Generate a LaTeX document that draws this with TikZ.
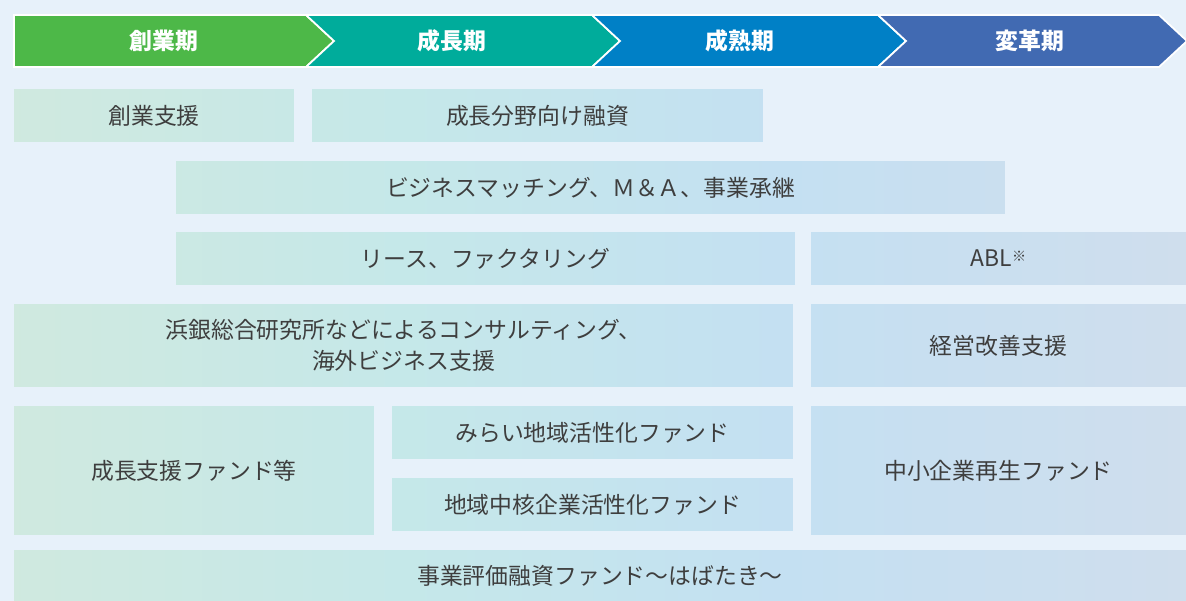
\documentclass[tikz,border=0pt]{standalone}
\usepackage{fontspec}
\setmainfont{Noto Sans CJK JP}
\usetikzlibrary{backgrounds}
\definecolor{HBGreen}{RGB}{77,184,72}
\definecolor{HBTeal}{RGB}{0,172,155}
\definecolor{HBBlue}{RGB}{0,128,198}
\definecolor{HBIndigo}{RGB}{65,106,178}
\definecolor{HBBack}{RGB}{231,241,250}
\definecolor{HBText}{RGB}{62,62,62}
\definecolor{CardA}{RGB}{208,233,223}
\definecolor{CardB}{RGB}{197,232,233}
\definecolor{CardC}{RGB}{196,224,242}
\definecolor{CardD}{RGB}{207,222,237}
\pgfdeclarehorizontalshading{cardshade}{100bp}{color(0bp)=(CardA); color(25bp)=(CardA); color(42bp)=(CardB); color(58bp)=(CardC); color(75bp)=(CardD); color(100bp)=(CardD)}
\tikzset{
  phase/.style={draw=white, line width=1pt},
  phaselabel/.style={text=white, font=\fontsize{13}{16}\selectfont\bfseries},
  card/.style={inner sep=0pt, outer sep=0pt, align=center, text=HBText, font=\fontsize{13}{17.4}\selectfont, minimum height=1.06cm},
  tallcard/.style={card, minimum height=1.66cm},
  bigcard/.style={card, minimum height=2.58cm}
}
\begin{document}
\begin{tikzpicture}[x=0.02cm, y=-0.02cm]
\useasboundingbox (0,0) rectangle (1186,601);
% phases
\fill[HBGreen, phase] (14,15) -- (306,15) -- (334,41) -- (306,67) -- (14,67) -- cycle;
\fill[HBTeal, phase] (306,15) -- (592,15) -- (620,41) -- (592,67) -- (306,67) -- (334,41) -- cycle;
\fill[HBBlue, phase] (592,15) -- (878,15) -- (906,41) -- (878,67) -- (592,67) -- (620,41) -- cycle;
\fill[HBIndigo, phase] (878,15) -- (1159,15) -- (1187,41) -- (1159,67) -- (878,67) -- (906,41) -- cycle;
\node[phaselabel] (p1) at (164,41) {創業期};
\node[phaselabel] (p2) at (452,41) {成長期};
\node[phaselabel] (p3) at (740,41) {成熟期};
\node[phaselabel] (p4) at (1030,41) {変革期};
% support menu
\node[card, minimum width=5.6cm] (sogyo) at (154,115.5) {創業支援};
\node[card, minimum width=9.02cm] (bunya) at (537.5,115.5) {成長分野向け融資};
\node[card, minimum width=16.58cm] (match) at (590.5,187.5) {ビジネスマッチング、Ｍ＆Ａ、事業承継};
\node[card, minimum width=12.38cm] (lease) at (485.5,258.5) {リース、ファクタリング};
\node[card, minimum width=7.5cm] (abl) at (998.5,258.5) {ABL\raisebox{0.45ex}{\fontsize{8}{8}\selectfont ※}};
\node[tallcard, minimum width=15.58cm] (consult) at (403.5,345.5) {浜銀総合研究所などによるコンサルティング、\\海外ビジネス支援};
\node[tallcard, minimum width=7.5cm] (kaizen) at (998.5,345.5) {経営改善支援};
\node[bigcard, minimum width=7.2cm] (fund) at (194,470.5) {成長支援ファンド等};
\node[card, minimum width=8.02cm] (mirai) at (592.5,432.5) {みらい地域活性化ファンド};
\node[card, minimum width=8.02cm] (chukaku) at (592.5,504.5) {地域中核企業活性化ファンド};
\node[bigcard, minimum width=7.5cm] (saisei) at (998.5,470.5) {中小企業再生ファンド};
\node[card, minimum width=23.44cm, minimum height=1.02cm] (habataki) at (600,575.5) {事業評価融資ファンド〜はばたき〜};
\begin{scope}[on background layer]
\fill[HBBack] (0,0) rectangle (1186,601);
\begin{scope}
\clip (sogyo.south west) rectangle (sogyo.north east)
      (bunya.south west) rectangle (bunya.north east)
      (match.south west) rectangle (match.north east)
      (lease.south west) rectangle (lease.north east)
      (abl.south west) rectangle (abl.north east)
      (consult.south west) rectangle (consult.north east)
      (kaizen.south west) rectangle (kaizen.north east)
      (fund.south west) rectangle (fund.north east)
      (mirai.south west) rectangle (mirai.north east)
      (chukaku.south west) rectangle (chukaku.north east)
      (saisei.south west) rectangle (saisei.north east)
      (habataki.south west) rectangle (habataki.north east);
\shade[shading=cardshade] (0,0) rectangle (1186,601);
\end{scope}
\end{scope}
\end{tikzpicture}
\end{document}
